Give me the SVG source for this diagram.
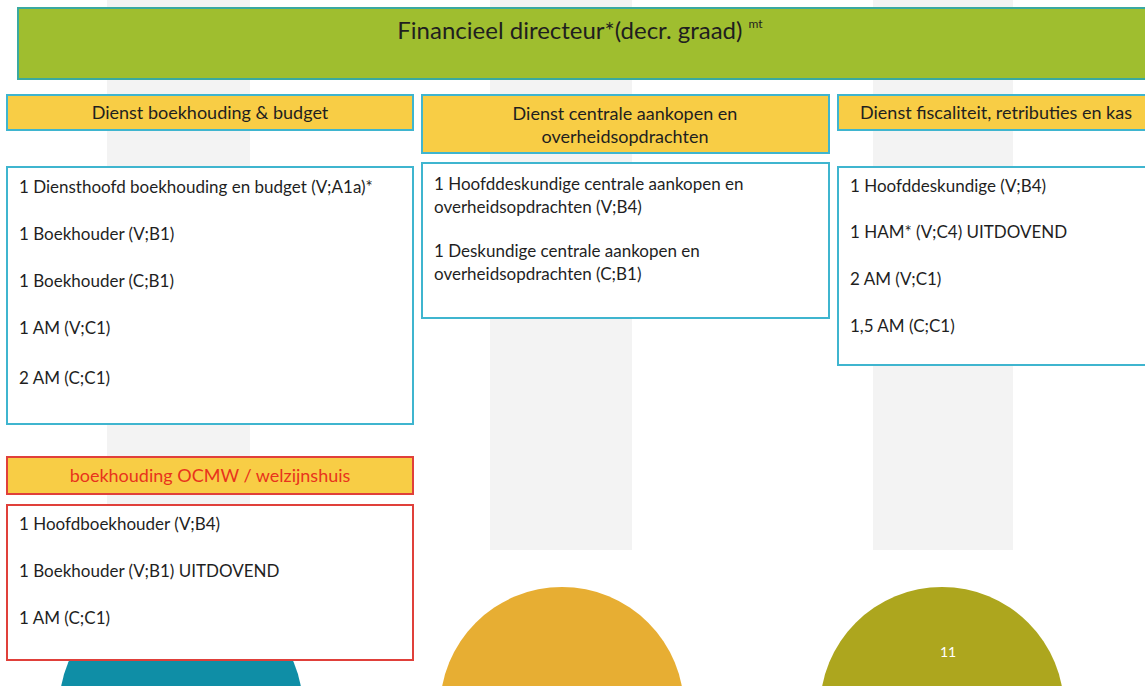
<svg xmlns="http://www.w3.org/2000/svg" width="1145" height="686" viewBox="0 0 1145 686">
<style>
.bar{fill:#f3f3f3}
.hdr{fill:#f8cd45;stroke:#3fb5cf;stroke-width:2}
.hdrR{fill:#f8cd45;stroke:#e0403a;stroke-width:2}
.box{fill:#ffffff;stroke:#3fb5cf;stroke-width:2}
.boxR{fill:#ffffff;stroke:#e0403a;stroke-width:2}
text{font-family:Lato,"Liberation Sans",sans-serif;fill:#1f1f1f}
.t{font-size:17px}
.h{font-size:18px;text-anchor:middle}
.hr{font-size:18px;text-anchor:middle;fill:#e8341c}
</style>
<rect width="1145" height="686" fill="#ffffff"/>
<g id="background">
<rect class="bar" x="107" y="0" width="143" height="550"/>
<rect class="bar" x="490" y="0" width="142" height="550"/>
<rect class="bar" x="873" y="0" width="140" height="550"/>
<circle cx="181" cy="709" r="122" fill="#0f8ea6"/>
<circle cx="562" cy="709" r="122" fill="#e7ae33"/>
<circle cx="942" cy="709" r="122" fill="#ada61e"/>
<text x="948" y="657" style="font-size:14px;fill:#ffffff;text-anchor:middle">11</text>
</g>
<g id="connectors"></g>
<g id="top">
<rect x="18" y="8" width="1140" height="71" fill="#9fbe2f" stroke="#3aa9a0" stroke-width="2"/>
<text x="580" y="39" style="font-size:24px;text-anchor:middle">Financieel directeur*(decr. graad) <tspan style="font-size:12px" dy="-11">mt</tspan></text>
</g>
<g id="dienst1">
<rect class="hdr" x="7" y="95" width="406" height="35"/>
<text class="h" x="210" y="119">Dienst boekhouding &amp; budget</text>
</g>
<g id="dienst2">
<rect class="hdr" x="422" y="95" width="407" height="58"/>
<text class="h" x="625" y="120">Dienst centrale aankopen en</text>
<text class="h" x="625" y="143">overheidsopdrachten</text>
</g>
<g id="dienst3">
<rect class="hdr" x="838" y="95" width="320" height="35"/>
<text class="h" x="996" y="119">Dienst fiscaliteit, retributies en kas</text>
</g>
<g id="staff1">
<rect class="box" x="7" y="167" width="406" height="257"/>
<text class="t" x="19" y="193">1 Diensthoofd boekhouding en budget (V;A1a)*</text>
<text class="t" x="19" y="240">1 Boekhouder (V;B1)</text>
<text class="t" x="19" y="287">1 Boekhouder (C;B1)</text>
<text class="t" x="19" y="334">1 AM (V;C1)</text>
<text class="t" x="19" y="384">2 AM (C;C1)</text>
</g>
<g id="staff2">
<rect class="box" x="422" y="163" width="407" height="155"/>
<text class="t" x="434" y="190">1 Hoofddeskundige centrale aankopen en</text>
<text class="t" x="434" y="213">overheidsopdrachten (V;B4)</text>
<text class="t" x="434" y="257">1 Deskundige centrale aankopen en</text>
<text class="t" x="434" y="280">overheidsopdrachten (C;B1)</text>
</g>
<g id="staff3">
<rect class="box" x="838" y="167" width="320" height="198"/>
<text class="t" x="850" y="192">1 Hoofddeskundige (V;B4)</text>
<text class="t" x="850" y="238">1 HAM* (V;C4) UITDOVEND</text>
<text class="t" x="850" y="285">2 AM (V;C1)</text>
<text class="t" x="850" y="332">1,5 AM (C;C1)</text>
</g>
<g id="ocmw">
<rect class="hdrR" x="7" y="457" width="406" height="37"/>
<text class="hr" x="210" y="482">boekhouding OCMW / welzijnshuis</text>
</g>
<g id="staffOcmw">
<rect class="boxR" x="7" y="505" width="406" height="155"/>
<text class="t" x="19" y="530">1 Hoofdboekhouder (V;B4)</text>
<text class="t" x="19" y="577">1 Boekhouder (V;B1) UITDOVEND</text>
<text class="t" x="19" y="624">1 AM (C;C1)</text>
</g>
</svg>
